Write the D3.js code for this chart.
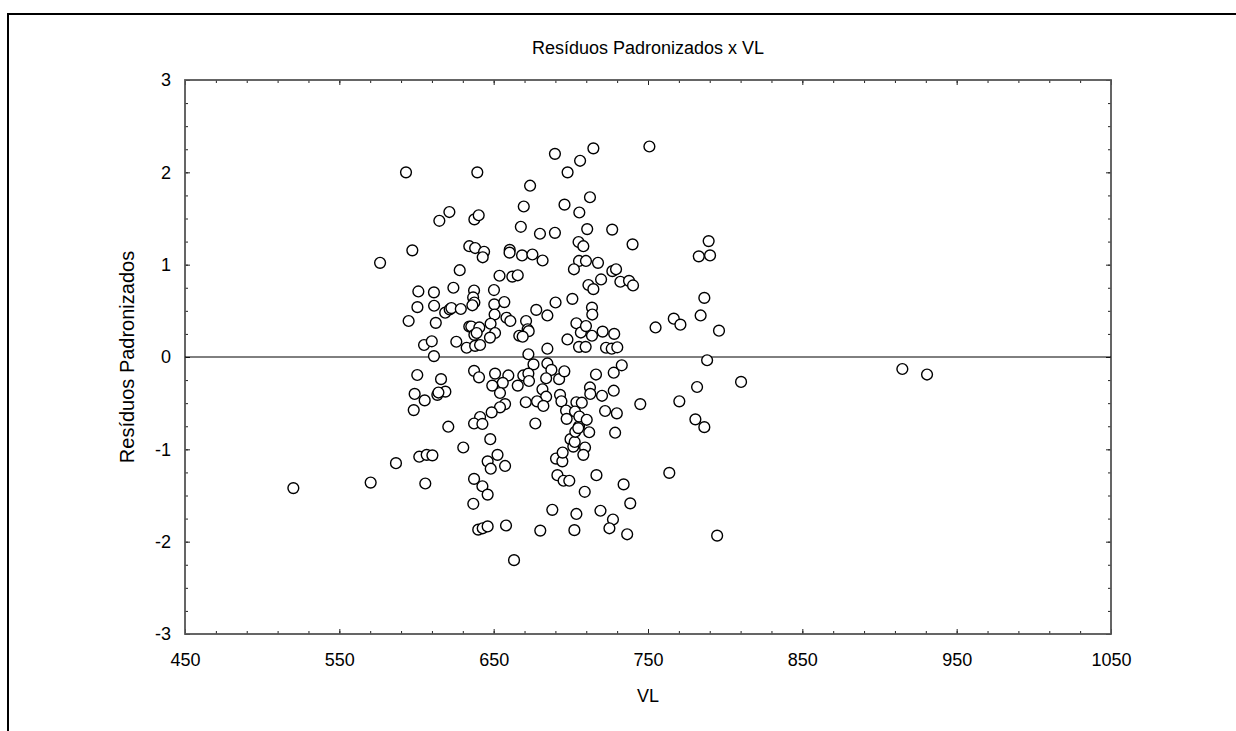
<!DOCTYPE html>
<html><head><meta charset="utf-8">
<script src="https://cdn.jsdelivr.net/npm/d3@7"></script>
<style>body{margin:0;background:#fff}svg{display:block}</style>
</head><body>
<script>
// VL values (x) and standardized residuals (y)
const vl = [
593.2,576.4,597.3,614.8,621.3,639.4,637.5,640.3,634.2,638.0,643.8,642.9,628.0,601.2,611.3,623.9,637.3,636.7,637.5,636.2,
600.6,611.4,618.6,621.5,622.6,628.7,594.9,612.5,634.2,635.5,640.7,637.5,639.0,604.9,609.9,625.8,632.5,638.0,641.2,611.3,
689.7,706.0,697.9,673.6,669.5,695.9,705.5,667.6,680.0,689.7,714.6,750.9,712.4,710.6,726.8,740.0,705.0,708.1,660.4,660.3,
668.4,675.1,681.7,705.3,709.8,717.6,702.0,726.9,729.3,719.6,732.1,737.7,740.3,711.4,714.6,782.9,790.2,789.3,786.5,784.1,
766.7,771.0,754.9,796.0,653.8,662.1,665.6,650.2,650.4,656.9,650.6,648.0,650.9,647.6,658.3,660.8,677.6,684.8,690.1,701.0,
703.6,706.5,709.8,713.7,713.9,713.7,720.6,728.1,671.0,672.0,672.7,666.6,668.8,697.8,705.3,709.6,722.8,726.5,730.1,684.8,
672.5,675.8,684.8,687.4,684.0,692.4,695.8,637.3,640.5,650.9,659.5,655.9,649.1,654.1,665.6,669.2,672.5,672.9,681.6,684.0,
678.1,682.2,670.8,657.4,654.1,648.7,641.2,637.3,642.7,677.0,647.8,630.3,652.5,646.1,648.1,657.4,637.3,642.7,646.1,636.8,
640.0,642.9,646.1,658.0,663.2,680.2,688.0,691.3,695.3,699.0,690.4,694.5,694.7,699.8,701.6,702.5,709.2,708.1,702.9,711.9,
705.3,693.0,693.9,703.6,707.1,696.9,702.7,697.3,705.5,710.3,712.4,712.6,720.2,716.3,727.8,733.0,727.8,722.2,729.8,728.7,
745.0,770.3,781.8,780.7,786.5,788.3,810.3,763.8,734.2,738.5,719.2,716.6,709.0,727.3,725.0,736.5,794.8,703.6,702.3,600.5,
615.9,598.8,605.3,613.5,618.7,614.2,598.2,620.6,586.7,601.8,606.6,610.3,605.7,520.2,570.3,914.8,930.8,704.8
];
const residuals = [
2.00,1.02,1.155,1.475,1.57,2.00,1.49,1.535,1.20,1.18,1.14,1.08,0.94,0.71,0.70,0.75,0.72,0.645,0.59,0.56,
0.54,0.555,0.48,0.515,0.53,0.52,0.39,0.37,0.33,0.33,0.32,0.24,0.26,0.13,0.17,0.165,0.10,0.12,0.13,0.01,
2.20,2.125,2.00,1.855,1.63,1.65,1.565,1.41,1.335,1.345,2.26,2.28,1.73,1.385,1.38,1.22,1.245,1.20,1.16,1.13,
1.10,1.11,1.045,1.04,1.04,1.02,0.95,0.93,0.95,0.84,0.815,0.825,0.775,0.78,0.735,1.09,1.10,1.255,0.64,0.45,
0.415,0.35,0.32,0.285,0.88,0.87,0.885,0.725,0.57,0.595,0.46,0.36,0.26,0.21,0.425,0.39,0.51,0.45,0.59,0.63,
0.365,0.265,0.335,0.535,0.46,0.23,0.275,0.25,0.39,0.30,0.28,0.23,0.22,0.19,0.11,0.11,0.10,0.09,0.105,0.09,
0.03,-0.08,-0.07,-0.14,-0.23,-0.24,-0.155,-0.15,-0.22,-0.18,-0.20,-0.28,-0.31,-0.39,-0.31,-0.20,-0.18,-0.26,-0.35,-0.43,
-0.48,-0.53,-0.49,-0.51,-0.545,-0.60,-0.65,-0.72,-0.725,-0.72,-0.89,-0.98,-1.06,-1.13,-1.21,-1.18,-1.32,-1.40,-1.49,-1.59,
-1.87,-1.855,-1.835,-1.825,-2.20,-1.88,-1.655,-1.28,-1.34,-1.34,-1.10,-1.13,-1.035,-0.89,-0.97,-0.92,-0.98,-1.06,-0.81,-0.815,
-0.75,-0.41,-0.48,-0.49,-0.495,-0.58,-0.59,-0.67,-0.645,-0.68,-0.33,-0.40,-0.42,-0.19,-0.17,-0.09,-0.365,-0.585,-0.61,-0.82,
-0.51,-0.48,-0.325,-0.675,-0.76,-0.035,-0.27,-1.255,-1.38,-1.585,-1.665,-1.28,-1.46,-1.76,-1.855,-1.92,-1.935,-1.70,-1.875,-0.195,
-0.24,-0.40,-0.47,-0.41,-0.375,-0.385,-0.575,-0.755,-1.15,-1.08,-1.06,-1.065,-1.37,-1.42,-1.36,-0.13,-0.19,-0.77
];
const xTicks = [450,550,650,750,850,950,1050];
const yTicks = [-3,-2,-1,0,1,2,3];
const xMinor = d3.range(450,1051,20);
const yMinor = d3.range(-3,3.001,0.25);
const title = "Resíduos Padronizados x VL";
const xTitle = "VL";
const yTitle = "Resíduos Padronizados";

const W = 1236, H = 731;
const m = {left:185, right:1111, top:80, bottom:634};
const font = "'Liberation Sans', Arial, sans-serif";
const fmt = d => String(d);

const svg = d3.select("body").append("svg").attr("width",W).attr("height",H);

// outer frame (top + left)
svg.append("path").attr("d",`M8,${H} L8,14 L${W},14`)
  .attr("fill","none").attr("stroke","#000").attr("stroke-width",2);

const x = d3.scaleLinear().domain([450,1050]).range([m.left,m.right]);
const y = d3.scaleLinear().domain([-3,3]).range([m.bottom,m.top]);

function styleAxis(g){
  g.select(".domain").remove();
  g.selectAll(".tick line").attr("stroke","#222").attr("stroke-width",1);
  g.selectAll("text").attr("font-family",font).attr("font-size",18).attr("fill","#000");
}

// minor ticks (all four sides, inward)
svg.append("g").attr("transform",`translate(0,${m.bottom})`)
  .call(d3.axisBottom(x).tickValues(xMinor).tickSize(-3).tickFormat("")).call(styleAxis);
svg.append("g").attr("transform",`translate(0,${m.top})`)
  .call(d3.axisTop(x).tickValues(xMinor).tickSize(-3).tickFormat("")).call(styleAxis);
svg.append("g").attr("transform",`translate(${m.left},0)`)
  .call(d3.axisLeft(y).tickValues(yMinor).tickSize(-3).tickFormat("")).call(styleAxis);
svg.append("g").attr("transform",`translate(${m.right},0)`)
  .call(d3.axisRight(y).tickValues(yMinor).tickSize(-3).tickFormat("")).call(styleAxis);

// major ticks with labels
svg.append("g").attr("transform",`translate(0,${m.bottom})`)
  .call(d3.axisBottom(x).tickValues(xTicks).tickSizeInner(-5).tickSizeOuter(0).tickPadding(19).tickFormat(fmt))
  .call(styleAxis);
svg.append("g").attr("transform",`translate(0,${m.top})`)
  .call(d3.axisTop(x).tickValues(xTicks).tickSize(-5).tickFormat("")).call(styleAxis);
svg.append("g").attr("transform",`translate(${m.left},0)`)
  .call(d3.axisLeft(y).tickValues(yTicks).tickSizeInner(-5).tickSizeOuter(0).tickPadding(14).tickFormat(fmt))
  .call(styleAxis);
svg.append("g").attr("transform",`translate(${m.right},0)`)
  .call(d3.axisRight(y).tickValues(yTicks).tickSize(-5).tickFormat("")).call(styleAxis);

// plot frame
svg.append("rect").attr("x",m.left).attr("y",m.top)
  .attr("width",m.right-m.left).attr("height",m.bottom-m.top)
  .attr("fill","none").attr("stroke","#555").attr("stroke-width",1.8);

// zero reference line
svg.append("line").attr("x1",m.left).attr("x2",m.right)
  .attr("y1",y(0)).attr("y2",y(0)).attr("stroke","#000").attr("stroke-width",1);

// points
const pts = vl.map((v,i)=>({x:v,y:residuals[i]}));
svg.append("g").selectAll("circle").data(pts).join("circle")
  .attr("cx",d=>x(d.x)).attr("cy",d=>y(d.y)).attr("r",5.4)
  .attr("fill","#fff").attr("stroke","#000").attr("stroke-width",1.4);

// titles
svg.append("text").attr("x",(m.left+m.right)/2).attr("y",54)
  .attr("text-anchor","middle").attr("font-family",font).attr("font-size",18).text(title);
svg.append("text").attr("x",(m.left+m.right)/2).attr("y",702)
  .attr("text-anchor","middle").attr("font-family",font).attr("font-size",18).text(xTitle);
svg.append("text").attr("transform",`translate(134,${(m.top+m.bottom)/2}) rotate(-90)`)
  .attr("text-anchor","middle").attr("font-family",font).attr("font-size",20).text(yTitle);
</script>
</body></html>
